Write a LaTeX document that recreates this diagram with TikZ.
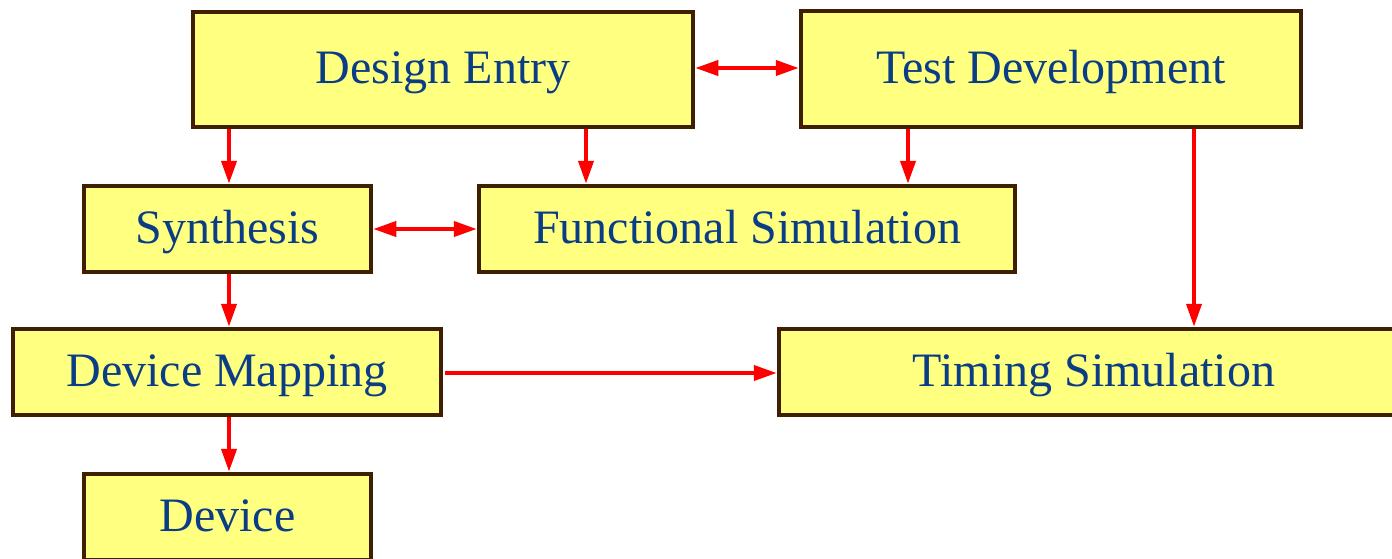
\documentclass[tikz,border=0pt]{standalone}
\usepackage{fontspec}
\setmainfont{Liberation Serif}
\usetikzlibrary{arrows.meta}
\definecolor{boxfill}{HTML}{FFFF80}
\definecolor{boxline}{HTML}{3F1F00}
\definecolor{boxtext}{HTML}{0A3D85}
\definecolor{flow}{HTML}{FF0000}
\tikzset{
  stage/.style={draw=boxline, fill=boxfill, line width=2.25pt, inner sep=0pt,
    text=boxtext, font=\fontsize{24}{28}\selectfont, anchor=center,
    text height=16pt, text depth=2pt},
  arr/.style={draw=flow, line width=2pt, -{Triangle[length=11.5pt,width=7.5pt]}},
  biarr/.style={draw=flow, line width=2pt, {Triangle[length=11.5pt,width=7.5pt]}-{Triangle[length=11.5pt,width=7.5pt]}}
}
\begin{document}
\begin{tikzpicture}[x=1pt,y=1pt]
\useasboundingbox (0,0) rectangle (696,-279);

% process stages
\node[stage, minimum width=250pt, minimum height=57.5pt] (de) at (221.5,-34.75) {Design Entry};
\node[stage, minimum width=250pt, minimum height=58pt] (td) at (525.5,-34.5) {Test Development};
\node[stage, minimum width=143.5pt, minimum height=43pt] (syn) at (113.75,-114.5) {Synthesis};
\node[stage, minimum width=268pt, minimum height=43pt] (fs) at (373.5,-114.5) {Functional Simulation};
\node[stage, minimum width=214pt, minimum height=43pt] (dm) at (113.5,-186) {Device Mapping};
\node[stage, minimum width=315pt, minimum height=43pt] (ts) at (547,-186) {Timing Simulation};
\node[stage, minimum width=143.5pt, minimum height=43pt] (dev) at (113.75,-258.5) {Device};

% flow between stages
\draw[biarr] ([yshift=0.75pt]de.east) -- ([yshift=0.75pt]de.east -| td.west);
\draw[arr] ([xshift=0.75pt]syn.north |- de.south) -- ([xshift=0.75pt]syn.north);
\draw[arr] ([xshift=71.5pt]de.south) -- ([xshift=71.5pt]de.south |- fs.north);
\draw[arr] ([xshift=-71.5pt]td.south) -- ([xshift=-71.5pt]td.south |- fs.north);
\draw[arr] ([xshift=71.5pt]td.south) -- ([xshift=71.5pt]td.south |- ts.north);
\draw[biarr] (syn.east) -- (syn.east -| fs.west);
\draw[arr] ([xshift=0.75pt]syn.south) -- ([xshift=0.75pt]syn.south |- dm.north);
\draw[arr] ([xshift=1pt,yshift=-0.5pt]dm.east) -- ([yshift=-0.5pt]dm.east -| ts.west);
\draw[arr] ([xshift=0.75pt]dm.south -| syn.south) -- ([xshift=0.75pt]dev.north);
\end{tikzpicture}
\end{document}
